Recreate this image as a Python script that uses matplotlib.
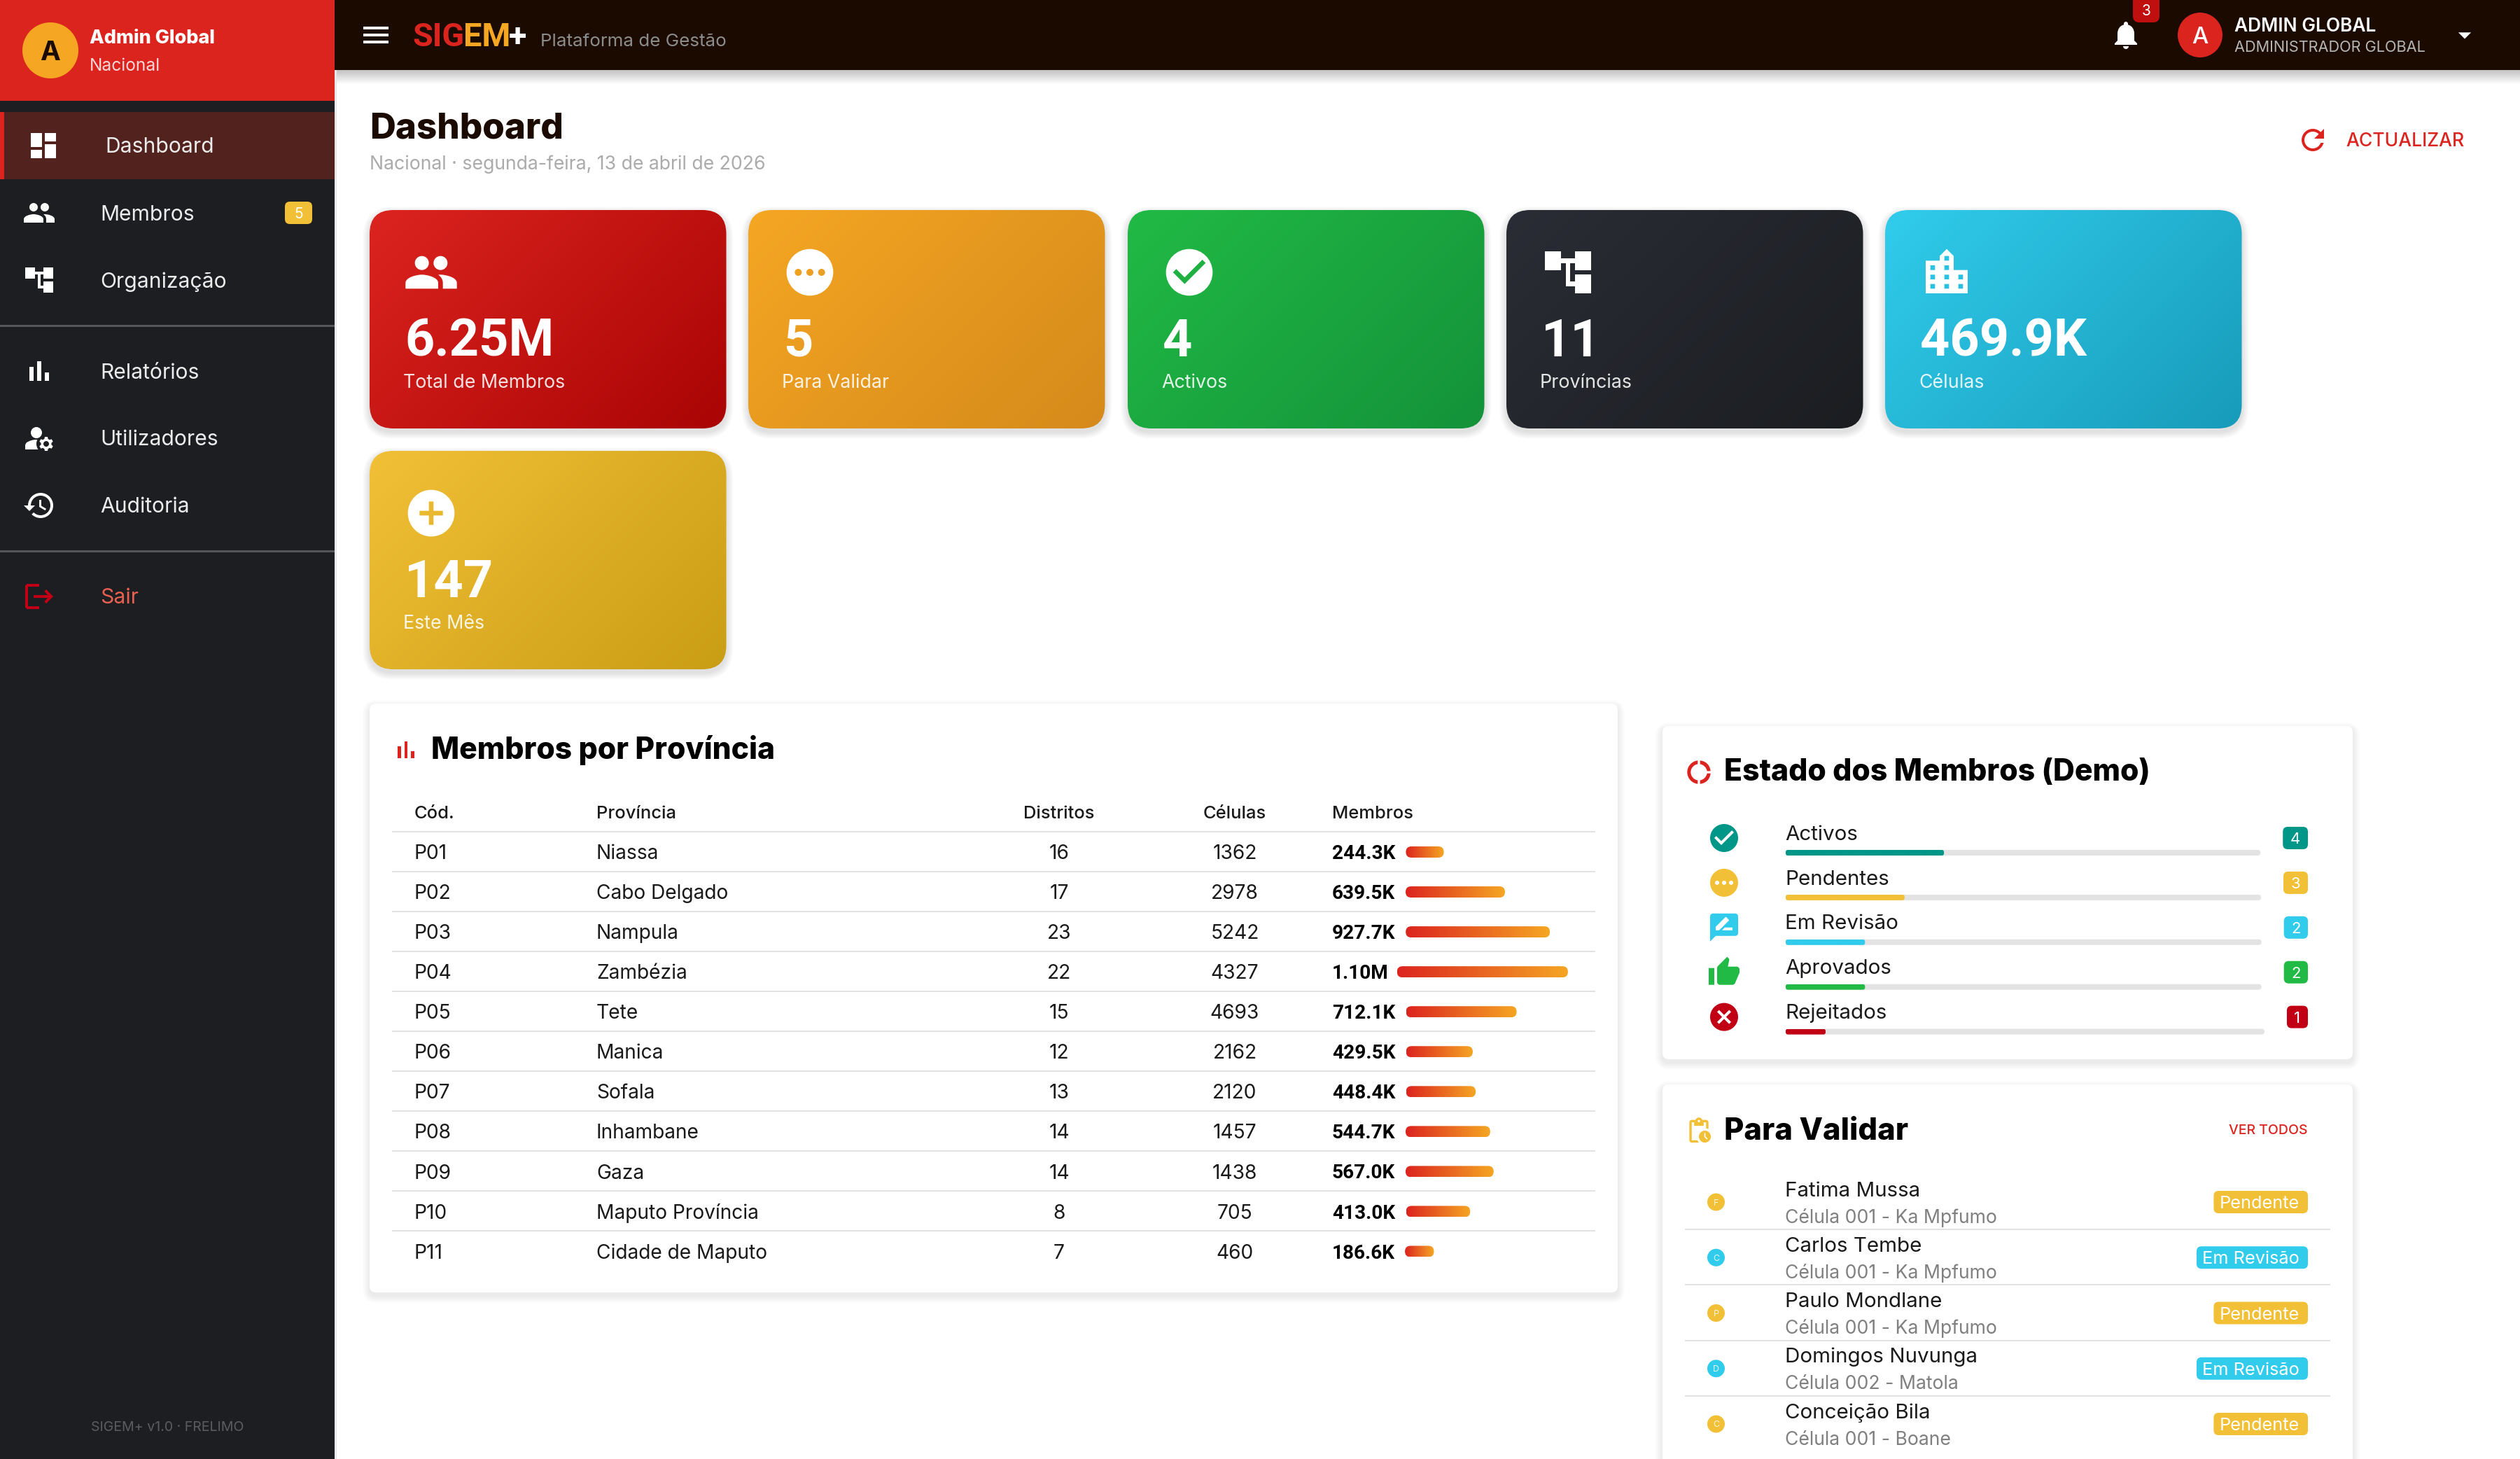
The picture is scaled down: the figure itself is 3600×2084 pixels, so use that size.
import re
import numpy as np
import matplotlib
matplotlib.use('Agg')
import matplotlib.pyplot as plt
from matplotlib.patches import FancyBboxPatch, Rectangle, Circle, PathPatch
from matplotlib.path import Path
from matplotlib.colors import LinearSegmentedColormap
from matplotlib.font_manager import FontProperties, fontManager
from matplotlib.textpath import TextPath

# ------------------ data ------------------
menu_top = ['Dashboard', 'Membros', 'Organização']
menu_mid = ['Relatórios', 'Utilizadores', 'Auditoria']
stat_values = ['6.25M', '5', '4', '11', '469.9K', '147']
stat_labels = ['Total de Membros', 'Para Validar', 'Activos', 'Províncias', 'Células', 'Este Mês']
codes = ['P01', 'P02', 'P03', 'P04', 'P05', 'P06', 'P07', 'P08', 'P09', 'P10', 'P11']
provinces = ['Niassa', 'Cabo Delgado', 'Nampula', 'Zambézia', 'Tete', 'Manica', 'Sofala',
             'Inhambane', 'Gaza', 'Maputo Província', 'Cidade de Maputo']
districts = [16, 17, 23, 22, 15, 12, 13, 14, 14, 8, 7]
cells = [1362, 2978, 5242, 4327, 4693, 2162, 2120, 1457, 1438, 705, 460]
members_k = [244.3, 639.5, 927.7, 1100.0, 712.1, 429.5, 448.4, 544.7, 567.0, 413.0, 186.6]
status_labels = ['Activos', 'Pendentes', 'Em Revisão', 'Aprovados', 'Rejeitados']
status_counts = [4, 3, 2, 2, 1]
pending_names = ['Fatima Mussa', 'Carlos Tembe', 'Paulo Mondlane', 'Domingos Nuvunga', 'Conceição Bila']
pending_cells = ['Célula 001 - Ka Mpfumo', 'Célula 001 - Ka Mpfumo', 'Célula 001 - Ka Mpfumo',
                 'Célula 002 - Matola', 'Célula 001 - Boane']
pending_states = ['Pendente', 'Em Revisão', 'Pendente', 'Em Revisão', 'Pendente']

# ------------------ style ------------------
RED, AMBER, YEL, CYAN, GREEN, DKRED, TEAL = '#DC241F', '#F5A623', '#F2C037', '#31CCEC', '#21BA45', '#C10015', '#009688'
INK = '#1A0A00'
SIDE = '#1C1E22'
CARD_GRADS = [('#DC241F', '#A90404'), ('#F5A623', '#D58A1B'), ('#21BA45', '#14923A'),
              ('#2A2D35', '#1B1D21'), ('#31CCEC', '#189BBA'), ('#F2C037', '#C99D14')]
STATUS_COL = [TEAL, YEL, CYAN, GREEN, DKRED]
STATE_COL = {'Pendente': YEL, 'Em Revisão': CYAN}
BOLD = 800

names = {f.name: [] for f in fontManager.ttflist}
for f in fontManager.ttflist:
    names[f.name].append(f.weight if isinstance(f.weight, int) else {'bold': 700, 'normal': 400}.get(f.weight, 400))
FAM = 'DejaVu Sans'
for cand in ['Inter', 'Lato', 'Open Sans', 'Roboto', 'Noto Sans']:
    if cand in names and max(names[cand]) >= 600:
        FAM = cand
        break
NUM = 'Roboto' if 'Roboto' in names and max(names['Roboto']) >= 700 else FAM

fig = plt.figure(figsize=(36, 20.84), dpi=100, facecolor='white')
ax = fig.add_axes([0, 0, 1, 1])
ax.set_xlim(0, 3600)
ax.set_ylim(2084, 0)
ax.set_autoscale_on(False)
ax.axis('off')


def tw(s, pt, w='normal', fam=None):
    fp = FontProperties(family=fam or FAM, weight=w, size=pt)
    return TextPath((0, 0), s, prop=fp).get_extents().width * 100 / 72


def fit(s, px, w='normal', fam=None):
    return 20 * px / tw(s, 20, w, fam)


def T(x, yc, s, pt, color, w='normal', ha='left', alpha=None, z=10, fam=None):
    return ax.text(x, yc + 0.36 * pt * 100 / 72, s, fontsize=pt, color=color, fontweight=w, ha=ha,
                   va='baseline', family=fam or FAM, alpha=alpha, zorder=z)


def R(x0, y0, x1, y1, color, z=2, alpha=None):
    p = Rectangle((x0, y0), x1 - x0, y1 - y0, facecolor=color, edgecolor='none', zorder=z, alpha=alpha)
    ax.add_patch(p)
    return p


def RR(x0, y0, x1, y1, r, color='none', z=2, alpha=None):
    p = FancyBboxPatch((x0, y0), x1 - x0, y1 - y0, boxstyle=f'round,pad=0,rounding_size={r}',
                       facecolor=color, edgecolor='none', zorder=z, alpha=alpha)
    ax.add_patch(p)
    return p


def shadow(x0, y0, x1, y1, r, spread=10, dy=5, a=0.008):
    for k in range(spread, 0, -1):
        RR(x0 - k, y0 - k + dy, x1 + k, y1 + k + dy, r + k, '#000000', z=1, alpha=a)


def grad(x0, y0, x1, y1, c0, c1, r, angle=135, z=3):
    clip = RR(x0, y0, x1, y1, r, 'none', z=z)
    W, H = max(int(x1 - x0), 4), max(int(y1 - y0), 4)
    X, Y = np.meshgrid(np.linspace(x0, x1, W), np.linspace(y0, y1, H))
    a = np.radians(angle)
    L = abs((x1 - x0) * np.sin(a)) + abs((y1 - y0) * np.cos(a))
    t = ((X - (x0 + x1) / 2) * np.sin(a) - (Y - (y0 + y1) / 2) * np.cos(a)) / L + 0.5
    cm = LinearSegmentedColormap.from_list('g', [c0, c1])
    im = ax.imshow(t, extent=(x0, x1, y1, y0), origin='upper', cmap=cm, vmin=0, vmax=1,
                   interpolation='bilinear', aspect='auto', zorder=z)
    im.set_clip_path(clip)


def svg(d):
    toks = re.findall(r'[MmLlHhVvCcSsZz]|-?\d*\.?\d+', d)
    i, cmd = 0, None
    v, c = [], []
    cur = np.zeros(2)
    start = np.zeros(2)
    last = None

    def num(n):
        nonlocal i
        o = [float(t) for t in toks[i:i + n]]
        i += n
        return o
    while i < len(toks):
        if re.match(r'[A-Za-z]', toks[i]):
            cmd = toks[i]
            i += 1
        up, rel = cmd.upper(), cmd.islower()
        if up == 'M':
            p = np.array(num(2))
            cur = cur + p if rel else p
            start = cur.copy()
            v.append(cur.copy()); c.append(Path.MOVETO)
            cmd = 'l' if rel else 'L'
            last = None
        elif up == 'L':
            p = np.array(num(2))
            cur = cur + p if rel else p
            v.append(cur.copy()); c.append(Path.LINETO)
            last = None
        elif up == 'H':
            p = num(1)[0]
            cur = np.array([cur[0] + p if rel else p, cur[1]])
            v.append(cur.copy()); c.append(Path.LINETO)
            last = None
        elif up == 'V':
            p = num(1)[0]
            cur = np.array([cur[0], cur[1] + p if rel else p])
            v.append(cur.copy()); c.append(Path.LINETO)
            last = None
        elif up in 'CS':
            if up == 'C':
                q = np.array(num(6)).reshape(3, 2)
                if rel:
                    q = q + cur
                p1, p2, p3 = q
            else:
                q = np.array(num(4)).reshape(2, 2)
                if rel:
                    q = q + cur
                p1 = 2 * cur - last if last is not None else cur.copy()
                p2, p3 = q
            v += [p1, p2, p3]
            c += [Path.CURVE4] * 3
            last = p2.copy()
            cur = p3.copy()
        else:
            v.append(start.copy()); c.append(Path.CLOSEPOLY)
            cur = start.copy()
            last = None
    return np.array(v), c


def icon(d, cx, cy, s, color, z=5):
    v, c = svg(d)
    k = s / 24
    pts = np.column_stack([cx + (v[:, 0] - 12) * k, cy + (v[:, 1] - 12) * k])
    ax.add_patch(PathPatch(Path(pts, c), facecolor=color, edgecolor='none', zorder=z))


I_DASH = 'M3 13h8V3H3v10zm0 8h8v-6H3v6zm10 0h8V11h-8v10zm0-18v6h8V3h-8z'
I_PEOPLE = 'M16 11c1.66 0 2.99-1.34 2.99-3S17.66 5 16 5c-1.66 0-3 1.34-3 3s1.34 3 3 3zm-8 0c1.66 0 2.99-1.34 2.99-3S9.66 5 8 5C6.34 5 5 6.34 5 8s1.34 3 3 3zm0 2c-2.33 0-7 1.17-7 3.5V19h14v-2.5c0-2.33-4.67-3.5-7-3.5zm8 0c-.29 0-.62.02-.97.05 1.16.84 1.97 1.96 1.97 3.45V19h6v-2.5c0-2.33-4.67-3.5-7-3.5z'
I_TREE = 'M22 11V3h-7v3H9V3H2v8h7V8h2v10h4v3h7v-8h-7v3h-2V8h2v3z'
I_BARS = 'M5 9.2h3V19H5zM10.6 5h2.8v14h-2.8zm5.6 8H19v6h-2.8z'
I_MENU = 'M3 18h18v-2H3v2zm0-5h18v-2H3v2zm0-7v2h18V6H3z'
I_HIST = 'M13 3c-4.97 0-9 4.03-9 9H1l3.89 3.89.07.14L9 12H6c0-3.87 3.13-7 7-7s7 3.13 7 7-3.13 7-7 7c-1.93 0-3.68-.79-4.94-2.06l-1.42 1.42C8.27 19.99 10.51 21 13 21c4.97 0 9-4.03 9-9s-4.03-9-9-9zm-1 5v5l4.28 2.54.72-1.21-3.5-2.08V8H12z'
I_REFRESH = 'M17.65 6.35C16.2 4.9 14.21 4 12 4c-4.42 0-7.99 3.58-7.99 8s3.57 8 7.99 8c3.73 0 6.84-2.55 7.73-6h-2.08c-.82 2.33-3.04 4-5.65 4-3.31 0-6-2.69-6-6s2.69-6 6-6c1.66 0 3.14.69 4.22 1.78L13 11h7V4l-2.35 2.35z'
I_LOGOUT = 'M17 7l-1.41 1.41L18.17 11H8v2h10.17l-2.58 2.58L17 17l5-5zM4 5h8V3H4c-1.1 0-2 .9-2 2v14c0 1.1.9 2 2 2h8v-2H4V5z'
I_USER = 'M10.67 13.02c-.22-.01-.44-.02-.67-.02-2.42 0-4.68.67-6.61 1.82-.88.52-1.39 1.5-1.39 2.53V20h9.26c-.79-1.13-1.26-2.51-1.26-4 0-1.07.25-2.07.67-2.98zM10 12c2.21 0 4-1.79 4-4s-1.79-4-4-4-4 1.79-4 4 1.79 4 4 4zM20.75 16c0-.22-.03-.42-.06-.63l1.14-1.01-1-1.73-1.45.49c-.32-.27-.68-.48-1.08-.63L18 11h-2l-.3 1.49c-.4.15-.76.36-1.08.63l-1.45-.49-1 1.73 1.14 1.01c-.03.21-.06.41-.06.63s.03.42.06.63l-1.14 1.01 1 1.73 1.45-.49c.32.27.68.48 1.08.63L16 21h2l.3-1.49c.4-.15.76-.36 1.08-.63l1.45.49 1-1.73-1.14-1.01c.03-.21.06-.41.06-.63zM17 18c-1.1 0-2-.9-2-2s.9-2 2-2 2 .9 2 2-.9 2-2 2z'
I_BELL = 'M12 22c1.1 0 2-.9 2-2h-4c0 1.1.89 2 2 2zm6-6v-5c0-3.07-1.64-5.64-4.5-6.32V4c0-.83-.67-1.5-1.5-1.5s-1.5.67-1.5 1.5v.68C7.63 5.36 6 7.92 6 11v5l-2 2v1h16v-1l-2-2z'
I_DROP = 'M7 10l5 5 5-5z'
I_PEND = 'M12 2C6.48 2 2 6.48 2 12s4.48 10 10 10 10-4.48 10-10S17.52 2 12 2zM7 13.5c-.83 0-1.5-.67-1.5-1.5s.67-1.5 1.5-1.5 1.5.67 1.5 1.5-.67 1.5-1.5 1.5zm5 0c-.83 0-1.5-.67-1.5-1.5s.67-1.5 1.5-1.5 1.5.67 1.5 1.5-.67 1.5-1.5 1.5zm5 0c-.83 0-1.5-.67-1.5-1.5s.67-1.5 1.5-1.5 1.5.67 1.5 1.5-.67 1.5-1.5 1.5z'
I_CHECK = 'M12 2C6.48 2 2 6.48 2 12s4.48 10 10 10 10-4.48 10-10S17.52 2 12 2zm-2 15l-5-5 1.41-1.41L10 14.17l7.59-7.59L19 8l-9 9z'
I_CITY = 'M15 11V5l-3-3-3 3v2H3v14h18V11h-6zm-8 8H5v-2h2v2zm0-4H5v-2h2v2zm0-4H5V9h2v2zm6 8h-2v-2h2v2zm0-4h-2v-2h2v2zm0-4h-2V9h2v2zm0-4h-2V5h2v2zm6 12h-2v-2h2v2zm0-4h-2v-2h2v2z'
I_ADD = 'M12 2C6.48 2 2 6.48 2 12s4.48 10 10 10 10-4.48 10-10S17.52 2 12 2zm5 11h-4v4h-2v-4H7v-2h4V7h2v4h4v2z'
I_DONUT = 'M11 5.08V2c-5 .5-9 4.77-9 10s4 9.5 9 10v-3.08c-3.39-.49-6-3.4-6-6.92s2.61-6.43 6-6.92zM18.97 11H22c-.47-5-4-8.53-9-9v3.08C16 5.51 18.49 8 18.97 11zM13 18.92V22c5-.47 8.53-4 9-9h-3.03c-.48 3-2.97 5.49-5.97 5.92z'
I_REVIEW = 'M20 2H4c-1.1 0-2 .9-2 2v18l4-4h14c1.1 0 2-.9 2-2V4c0-1.1-.9-2-2-2zM6 14v-2.47l6.88-6.88c.2-.2.51-.2.71 0l1.77 1.77c.2.2.2.51 0 .71L8.47 14H6zm12 0h-7.5l2-2H18v2z'
I_THUMB = 'M1 21h4V9H1v12zm22-11c0-1.1-.9-2-2-2h-6.31l.95-4.57.03-.32c0-.41-.17-.79-.44-1.06L14.17 1 7.59 7.59C7.22 7.95 7 8.45 7 9v10c0 1.1.9 2 2 2h9c.83 0 1.54-.5 1.84-1.22l3.02-7.05c.09-.23.14-.47.14-.73v-2z'
I_CANCEL = 'M12 2C6.47 2 2 6.47 2 12s4.47 10 10 10 10-4.47 10-10S17.53 2 12 2zm5 13.59L15.59 17 12 13.41 8.41 17 7 15.59 10.59 12 7 8.41 8.41 7 12 10.59 15.59 7 17 8.41 13.41 12 17 15.59z'
I_CLIP = 'M17 12c-2.76 0-5 2.24-5 5s2.24 5 5 5 5-2.24 5-5-2.24-5-5-5zm1.65 7.35L16.5 17.2V14h1v2.79l1.85 1.85-.7.71zM18 3h-3.18C14.4 1.84 13.3 1 12 1s-2.4.84-2.82 2H6c-1.1 0-2 .9-2 2v15c0 1.1.9 2 2 2h6.11c-.59-.57-1.07-1.25-1.42-2H6V5h2v3h8V5h2v5.08c.71.1 1.38.31 2 .6V5c0-1.1-.9-2-2-2zm-6 2c-.55 0-1-.45-1-1s.45-1 1-1 1 .45 1 1-.45 1-1 1z'

# ------------------ sidebar ------------------
R(0, 0, 478, 2084, SIDE, z=2)
R(478, 100, 481, 2084, '#E8E8E8', z=2)
R(0, 0, 478, 144, RED, z=3)
ax.add_patch(Circle((72, 72), 40, facecolor=AMBER, edgecolor='none', zorder=4))
T(72, 72, 'A', fit('A', 27, 'bold'), INK, 'bold', ha='center')
T(128, 52, 'Admin Global', fit('Admin Global', 177, BOLD), 'white', BOLD)
T(128, 92, 'Nacional', fit('Nacional', 97), 'white', alpha=0.82)
R(0, 160, 478, 256, '#52221F', z=3)
R(0, 160, 6, 256, RED, z=4)
pt_menu = fit('Relatórios', 137)
icon(I_DASH, 62, 208, 48, 'white')
T(150, 207, menu_top[0], pt_menu, '#ECECEC')
icon(I_PEOPLE, 56, 304, 48, 'white')
T(143, 304, menu_top[1], pt_menu, '#ECECEC')
RR(407, 288, 446, 320, 7, YEL, z=4)
T(426.5, 304, '5', 15, 'white', ha='center')
icon(I_TREE, 56, 400, 48, 'white')
T(143, 400, menu_top[2], pt_menu, '#ECECEC')
R(0, 464, 478, 466.5, '#55565A', z=3)
icon(I_BARS, 56, 530, 48, 'white')
T(143, 530, menu_mid[0], pt_menu, '#ECECEC')
icon(I_USER, 56, 626, 48, 'white')
T(143, 625.5, menu_mid[1], pt_menu, '#ECECEC')
icon(I_HIST, 56, 722, 48, 'white')
T(143, 721.5, menu_mid[2], pt_menu, '#ECECEC')
R(0, 786, 478, 788.5, '#55565A', z=3)
icon(I_LOGOUT, 56, 852, 48, DKRED)
T(143, 851, 'Sair', pt_menu, '#E8604F')
T(239, 2037, 'SIGEM+ v1.0 · FRELIMO', fit('SIGEM+ v1.0 · FRELIMO', 216), '#5C5D61', ha='center')

# ------------------ top bar ------------------
for k in range(1, 21):
    R(481, 100, 3600, 100 + k, '#000000', z=1, alpha=0.012)
R(478, 0, 3600, 100, INK, z=3)
icon(I_MENU, 537, 50, 48, 'white')
pt_logo = fit('SIGEM+', 164, 'bold', NUM)
x_logo = 589
for seg, col in zip(['SIG', 'EM', '+'], [RED, AMBER, 'white']):
    T(x_logo, 49, seg, pt_logo, col, 'bold', fam=NUM)
    x_logo += tw(seg, pt_logo, 'bold', NUM) + 3
T(772, 57, 'Plataforma de Gestão', fit('Plataforma de Gestão', 262), '#8C8C8C')
icon(I_BELL, 3037, 50, 48, 'white')
RR(3047, -12, 3085, 32, 9, '#BF0F0F', z=4)
T(3066, 15, '3', 15, 'white', ha='center')
ax.add_patch(Circle((3143, 50), 32, facecolor=RED, edgecolor='none', zorder=4))
T(3143, 50, 'A', fit('A', 21), 'white', 500, ha='center')
T(3192, 36, 'ADMIN GLOBAL', fit('ADMIN GLOBAL', 201, 600), 'white', 600)
T(3192, 66, 'ADMINISTRADOR GLOBAL', fit('ADMINISTRADOR GLOBAL', 272), '#B5B5B5')
icon(I_DROP, 3521, 50, 44, 'white')

# ------------------ page header ------------------
T(528, 179, 'Dashboard', fit('Dashboard', 271, BOLD), INK, BOLD)
sub = 'Nacional · segunda-feira, 13 de abril de 2026'
T(528, 232, sub, fit(sub, 562), '#ABABAB')
icon(I_REFRESH, 3304, 200, 48, RED)
T(3351, 199.5, 'ACTUALIZAR', fit('ACTUALIZAR', 168, 500), RED, 500)

# ------------------ stat cards ------------------
card_icons = [I_PEOPLE, I_PEND, I_CHECK, I_TREE, I_CITY, I_ADD]
pt_val = fit('6.25M', 205, 'bold', NUM)
pt_lab = fit('Total de Membros', 228)
card_pos = [(528, 300), (1069, 300), (1611, 300), (2152, 300), (2693, 300), (528, 644)]
for i, ((cx, cy), val, lab) in enumerate(zip(card_pos, stat_values, stat_labels)):
    x1, y1 = cx + 509.5, cy + 312
    shadow(cx, cy, x1, y1, 34, spread=10, dy=5, a=0.010)
    grad(cx, cy, x1, y1, *CARD_GRADS[i], 34)
    icon(card_icons[i], cx + 88, cy + 89, 80, 'white')
    T(cx + 50, cy + 182, val, pt_val, 'white', 'bold', fam=NUM)
    T(cx + 48, cy + 244, lab, pt_lab, 'white', alpha=0.88)

# ------------------ table card ------------------
shadow(528, 1005, 2311, 1846, 9, a=0.006)
RR(528, 1005, 2311, 1846, 9, 'white', z=2)
icon(I_BARS, 580, 1071, 40, RED)
T(616.5, 1069, 'Membros por Província', fit('Membros por Província', 487, BOLD), '#000000', BOLD)
pt_row = fit('Cidade de Maputo', 242)
pt_head = fit('Província', 110, 500)
pt_bold = fit('639.5K', 89, 'bold', NUM)
X_COD, X_PROV, X_DIST, X_CEL, X_MEM = 592, 852, 1513, 1764, 1903
T(X_COD, 1160, 'Cód.', pt_head, '#1A1A1A', 500)
T(X_PROV, 1160, 'Província', pt_head, '#1A1A1A', 500)
T(X_DIST, 1160, 'Distritos', pt_head, '#1A1A1A', 500, ha='center')
T(X_CEL, 1160, 'Células', pt_head, '#1A1A1A', 500, ha='center')
T(X_MEM, 1160, 'Membros', pt_head, '#1A1A1A', 500)
R(560, 1186.5, 2279, 1188.5, '#E2E2E2', z=3)
BAR_PER_K = 0.222
for i, (cod, prov, dis, cel, mem) in enumerate(zip(codes, provinces, districts, cells, members_k)):
    yc = 1217 + 57.05 * i
    T(X_COD, yc, cod, pt_row, '#1A1A1A')
    T(X_PROV, yc, prov, pt_row, '#1A1A1A')
    T(X_DIST, yc, str(dis), pt_row, '#1A1A1A', ha='center')
    T(X_CEL, yc, str(cel), pt_row, '#1A1A1A', ha='center')
    lab = f'{mem / 1000:.2f}M' if mem >= 1000 else f'{mem:.1f}K'
    T(X_MEM, yc, lab, pt_bold, '#000000', 'bold', fam=NUM)
    bx = X_MEM + tw(lab, pt_bold, 'bold', NUM) + 16
    grad(bx, yc - 8, bx + mem * BAR_PER_K, yc + 8, RED, AMBER, 8, angle=90)
    if i < len(codes) - 1:
        R(560, yc + 27, 2279, yc + 29, '#E2E2E2', z=3)

# ------------------ status card ------------------
shadow(2375, 1037, 3361, 1513, 9, a=0.006)
RR(2375, 1037, 3361, 1513, 9, 'white', z=2)
icon(I_DONUT, 2427, 1103, 40, RED)
T(2463, 1100, 'Estado dos Membros (Demo)', fit('Estado dos Membros (Demo)', 604, BOLD), '#000000', BOLD)
status_icons = [I_CHECK, I_PEND, I_REVIEW, I_THUMB, I_CANCEL]
pt_st = fit('Em Revisão', 158)
total = sum(status_counts)
for i, (lab, n, col, ic) in enumerate(zip(status_labels, status_counts, STATUS_COL, status_icons)):
    y0 = 1197 + 63.9 * i
    icon(ic, 2463, y0, 48, col)
    T(2550, y0 - 8, lab, pt_st, '#1A1A1A')
    pt_n = 16
    bw = tw(str(n), pt_n) + 24
    bl = 3297 - bw
    RR(bl, y0 - 16, 3297, y0 + 16, 7, col, z=4)
    T((bl + 3297) / 2, y0, str(n), pt_n, 'white', ha='center')
    tr_end = bl - 32
    RR(2551, y0 + 17, tr_end, y0 + 25, 4, '#E3E3E3', z=3)
    grad(2551, y0 + 17, 2551 + (tr_end - 2551) * n / total, y0 + 25, col, col, 3, angle=90, z=4)

# ------------------ pending card ------------------
shadow(2375, 1549, 3361, 2120, 9, a=0.006)
RR(2375, 1549, 3361, 2120, 9, 'white', z=2)
icon(I_CLIP, 2427, 1615, 41, YEL)
T(2463, 1612, 'Para Validar', fit('Para Validar', 260, BOLD), '#000000', BOLD)
T(3297, 1613, 'VER TODOS', fit('VER TODOS', 111, 500), RED, 500, ha='right')
pt_nm = fit('Fatima Mussa', 189)
pt_sb = fit('Célula 001 - Ka Mpfumo', 300)
pt_ch = fit('Em Revisão', 135)
for i, (nm, cel, st) in enumerate(zip(pending_names, pending_cells, pending_states)):
    yn = 1698 + 79.25 * i
    col = STATE_COL[st]
    ax.add_patch(Circle((2451.5, yn + 19), 12.5, facecolor=col, edgecolor='none', zorder=4))
    T(2451.5, yn + 19, nm[0], 9, 'white', ha='center', alpha=0.85)
    T(2550, yn, nm, pt_nm, '#1A1A1A')
    T(2550, yn + 39, cel, pt_sb, '#808080')
    w_ch = tw(st, pt_ch)
    RR(3285 - w_ch - 12, yn + 3, 3297, yn + 35, 7, col, z=4)
    T(3285, yn + 19, st, pt_ch, 'white', ha='right')
    if i < len(pending_names) - 1:
        R(2407, yn + 57, 3329, yn + 59, '#E2E2E2', z=3)

fig.savefig('out.png', dpi=100, facecolor='white')
